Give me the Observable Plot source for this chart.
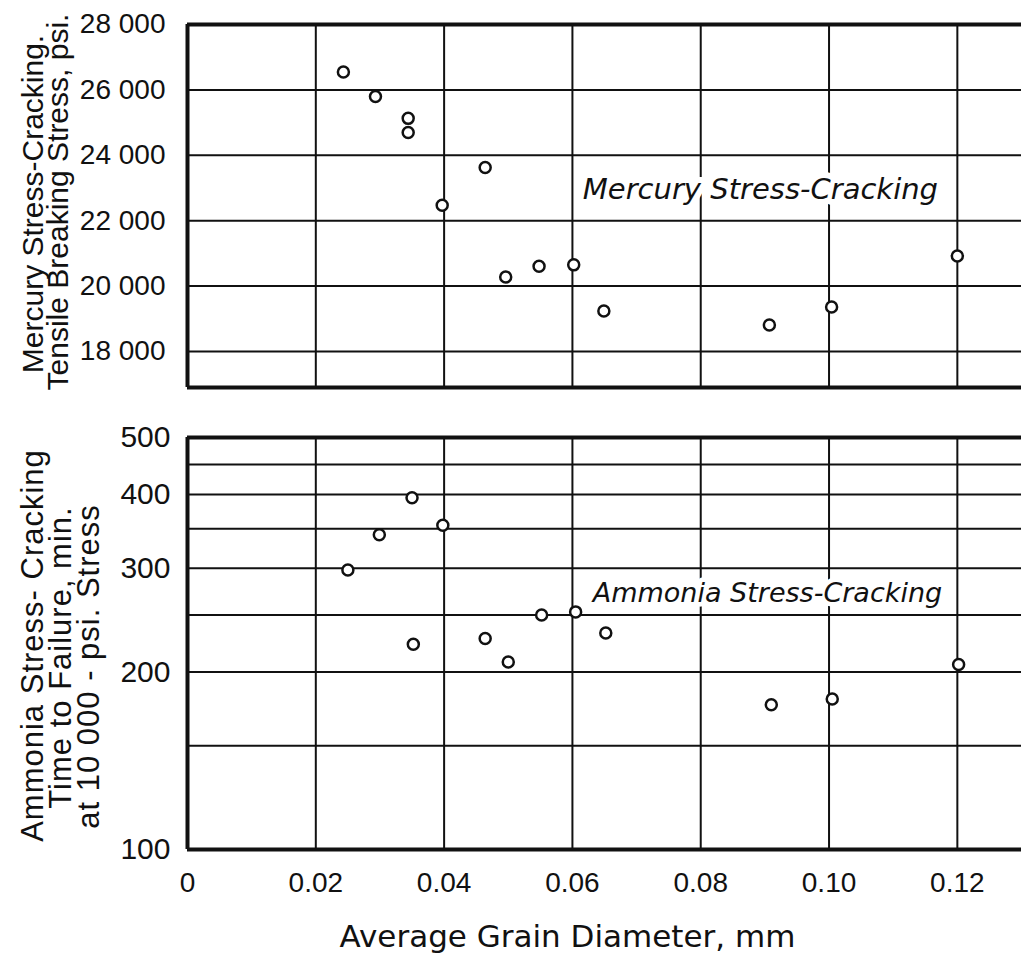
<!DOCTYPE html>
<html>
<head>
<meta charset="utf-8">
<script src="https://cdn.jsdelivr.net/npm/d3@7"></script>
<script src="https://cdn.jsdelivr.net/npm/@observablehq/plot@0.6"></script>
<style>
  body { margin: 0; background: #fff; }
  #chart { width: 1021px; }
  #chart svg { display: block; background: #fff; }
</style>
</head>
<body>
<div id="chart"></div>
<script>
// ---- data ----
const grainMercury  = [0.0243, 0.0293, 0.0344, 0.0344, 0.0397, 0.0464, 0.0496, 0.0548, 0.0602, 0.0649, 0.0907, 0.1004, 0.1200];
const mercuryStress = [26550, 25800, 25130, 24700, 22470, 23630, 20280, 20610, 20650, 19240, 18810, 19360, 20920];

const grainAmmonia  = [0.0250, 0.0299, 0.0350, 0.0352, 0.0398, 0.0464, 0.0500, 0.0552, 0.0605, 0.0652, 0.0910, 0.1005, 0.1202];
const ammoniaTime   = [298, 342, 395, 223, 355, 228, 208, 250, 253, 233, 176, 180, 206];

const xDomain = [0, 0.13];
const xTicks = [0, 0.02, 0.04, 0.06, 0.08, 0.10, 0.12];
const xTickLabels = ["0", "0.02", "0.04", "0.06", "0.08", "0.10", "0.12"];
const xGrid = [0.02, 0.04, 0.06, 0.08, 0.10, 0.12];

const mercuryDomain = [16900, 28000];
const mercuryTicks = [18000, 20000, 22000, 24000, 26000, 28000];
const mercuryTickLabels = ["18 000", "20 000", "22 000", "24 000", "26 000", "28 000"];
const mercuryGrid = [18000, 20000, 22000, 24000, 26000];

const ammoniaDomain = [100, 500];
const ammoniaTicks = [100, 200, 300, 400, 500];
const ammoniaTickLabels = ["100", "200", "300", "400", "500"];
const ammoniaGrid = [150, 200, 250, 300, 350, 400, 450];

const mercuryTitle = ["Mercury Stress-Cracking.", "Tensile Breaking Stress, psi."];
const ammoniaTitle = ["Ammonia Stress- Cracking", "Time to Failure, min.", "at 10 000 - psi. Stress"];
const xTitle = "Average Grain Diameter, mm";

const mercuryNote = [{label: "Mercury Stress-Cracking", x: 0.0893, y: 22960}];
const ammoniaNote = [{label: "Ammonia Stress-Cracking", x: 0.0904, y: 272}];

const mercuryPts = grainMercury.map((g, i) => ({g, v: mercuryStress[i]}));
const ammoniaPts = grainAmmonia.map((g, i) => ({g, v: ammoniaTime[i]}));

const lookup = (ticks, labels) => (d) => {
  const i = ticks.findIndex((t) => Math.abs(t - d) < 1e-9);
  return i < 0 ? "" : labels[i];
};

const INK = "#111";
const tickFont = "Liberation Sans, Arial, sans-serif";
const noteFont = "DejaVu Sans, sans-serif";

// ---- top panel ----
const topPanel = Plot.plot({
  width: 1021,
  height: 405,
  marginTop: 24,
  marginBottom: 18,
  marginLeft: 187,
  marginRight: 0,
  style: {background: "#fff", color: INK, overflow: "visible"},
  x: {domain: xDomain, axis: null},
  y: {domain: mercuryDomain, axis: null},
  marks: [
    Plot.ruleX(xGrid, {stroke: INK, strokeWidth: 2}),
    Plot.ruleY(mercuryGrid, {stroke: INK, strokeWidth: 2}),
    Plot.ruleY(mercuryDomain, {stroke: INK, strokeWidth: 4}),
    Plot.ruleX([xDomain[0]], {stroke: INK, strokeWidth: 4}),
    Plot.text(mercuryNote, {x: "x", y: "y", text: "label", fontSize: 29, fontStyle: "italic",
      fontFamily: noteFont, fill: INK, stroke: "white", strokeWidth: 12, textAnchor: "middle"}),
    Plot.dot(mercuryPts, {x: "g", y: "v", r: 5.5, fill: "white", stroke: INK, strokeWidth: 2.5}),
    Plot.axisY({ticks: mercuryTicks, tickFormat: lookup(mercuryTicks, mercuryTickLabels), tickSize: 0, tickPadding: 22,
      fontSize: 28, fontFamily: tickFont, label: null, fill: INK}),
    Plot.text([mercuryTitle[0]], {frameAnchor: "left", rotate: -90, dx: -145, dy: -2, lineAnchor: "bottom",
      textAnchor: "middle", fontSize: 30, fontFamily: tickFont, fill: INK}),
    Plot.text([mercuryTitle[1]], {frameAnchor: "left", rotate: -90, dx: -120, dy: -4, lineAnchor: "bottom",
      textAnchor: "middle", fontSize: 30, fontFamily: tickFont, fill: INK})
  ]
});

// ---- bottom panel ----
const bottomPanel = Plot.plot({
  width: 1021,
  height: 552,
  marginTop: 32,
  marginBottom: 108,
  marginLeft: 187,
  marginRight: 0,
  style: {background: "#fff", color: INK, overflow: "visible"},
  x: {domain: xDomain, axis: null},
  y: {type: "log", domain: ammoniaDomain, axis: null},
  marks: [
    Plot.ruleX(xGrid, {stroke: INK, strokeWidth: 2}),
    Plot.ruleY(ammoniaGrid, {stroke: INK, strokeWidth: 2}),
    Plot.ruleY(ammoniaDomain, {stroke: INK, strokeWidth: 4}),
    Plot.ruleX([xDomain[0]], {stroke: INK, strokeWidth: 4}),
    Plot.text(ammoniaNote, {x: "x", y: "y", text: "label", fontSize: 27, fontStyle: "italic",
      fontFamily: noteFont, fill: INK, stroke: "white", strokeWidth: 9, textAnchor: "middle"}),
    Plot.dot(ammoniaPts, {x: "g", y: "v", r: 5.5, fill: "white", stroke: INK, strokeWidth: 2.5}),
    Plot.axisY({ticks: ammoniaTicks, tickFormat: lookup(ammoniaTicks, ammoniaTickLabels), tickSize: 0, tickPadding: 17,
      fontSize: 30, fontFamily: tickFont, label: null, fill: INK}),
    Plot.axisX({ticks: xTicks, tickFormat: lookup(xTicks, xTickLabels), tickSize: 0, tickPadding: 23,
      fontSize: 28, fontFamily: tickFont, label: null, fill: INK}),
    Plot.text([xTitle], {frameAnchor: "bottom", dx: -37, dy: 88, lineAnchor: "middle", textAnchor: "middle",
      fontSize: 31, fontFamily: noteFont, fill: INK}),
    Plot.text([ammoniaTitle[0]], {frameAnchor: "left", rotate: -90, dx: -145, dy: 2, lineAnchor: "bottom",
      textAnchor: "middle", fontSize: 31, fontFamily: tickFont, fill: INK}),
    Plot.text([ammoniaTitle[1]], {frameAnchor: "left", rotate: -90, dx: -117, dy: 14, lineAnchor: "bottom",
      textAnchor: "middle", fontSize: 31, fontFamily: tickFont, fill: INK}),
    Plot.text([ammoniaTitle[2]], {frameAnchor: "left", rotate: -90, dx: -89, dy: 23, lineAnchor: "bottom",
      textAnchor: "middle", fontSize: 31, fontFamily: tickFont, fill: INK})
  ]
});

d3.select(bottomPanel).selectAll("text")
  .filter(function () { return ammoniaTitle.includes(this.textContent); })
  .style("letter-spacing", "1px");

document.getElementById("chart").append(topPanel, bottomPanel);
</script>
</body>
</html>
